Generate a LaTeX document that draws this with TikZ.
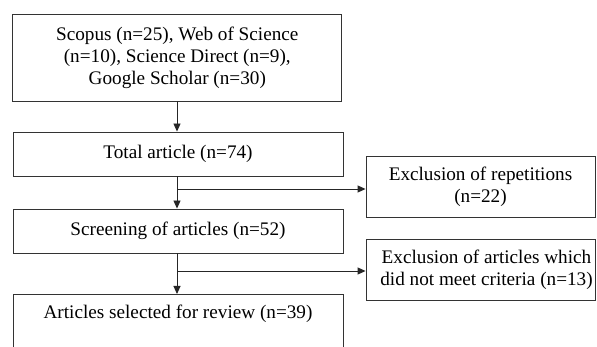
\documentclass[tikz,border=0pt]{standalone}
\usepackage{fontspec}
\setmainfont{Liberation Serif}
\usetikzlibrary{arrows.meta}
\begin{document}
\begin{tikzpicture}[x=1pt,y=-1pt,
  box/.style={draw=black!80, line width=0.9pt, rectangle, inner sep=0pt, align=center,
    font=\fontsize{19.2}{22}\selectfont},
  arr/.style={draw=black!85, line width=0.9pt, -{Triangle[length=8pt,width=7pt]}},
  ln/.style={draw=black!85, line width=0.9pt}]
\useasboundingbox (0,0) rectangle (597,347);
\clip (0,0) rectangle (597,347);
\fill[white] (0,0) rectangle (597,347);
\node[box, minimum width=329, minimum height=87] (b1) at (177.3,57.5)
  {Scopus (n=25), Web of Science\\(n=10), Science Direct (n=9),\\Google Scholar (n=30)};
\node[box, minimum width=330, minimum height=44] (b2) at (178,154) {Total article (n=74)};
\node[box, minimum width=330, minimum height=44] (b3) at (178,231) {Screening of articles (n=52)};
\node[box, minimum width=229, minimum height=61] (e1) at (480.5,186.5) {Exclusion of repetitions\\(n=22)};
\node[box, minimum width=229, minimum height=61] (e2) at (480.5,270) {};
\node[box, draw=none] (e2t) at (486.5,270) {Exclusion of articles which\\did not meet criteria (n=13)};
\node[box, anchor=north, minimum width=330, text height=14, text depth=70, inner ysep=10.5] (b4) at (178,294)
  {Articles selected for review (n=39)};
\coordinate (j1) at (177,189);
\coordinate (j2) at (177,271);
\draw[arr] (j1 |- b1.south) -- (j1 |- b2.north);
\draw[ln] (j1 |- b2.south) -- (j1);
\draw[arr] (j1) -- (j1 |- b3.north);
\draw[arr] (j1) -- (j1 -| e1.west);
\draw[ln] (j2 |- b3.south) -- (j2);
\draw[arr] (j2) -- (j2 |- b4.north);
\draw[arr] (j2) -- (j2 -| e2.west);
\end{tikzpicture}
\end{document}
